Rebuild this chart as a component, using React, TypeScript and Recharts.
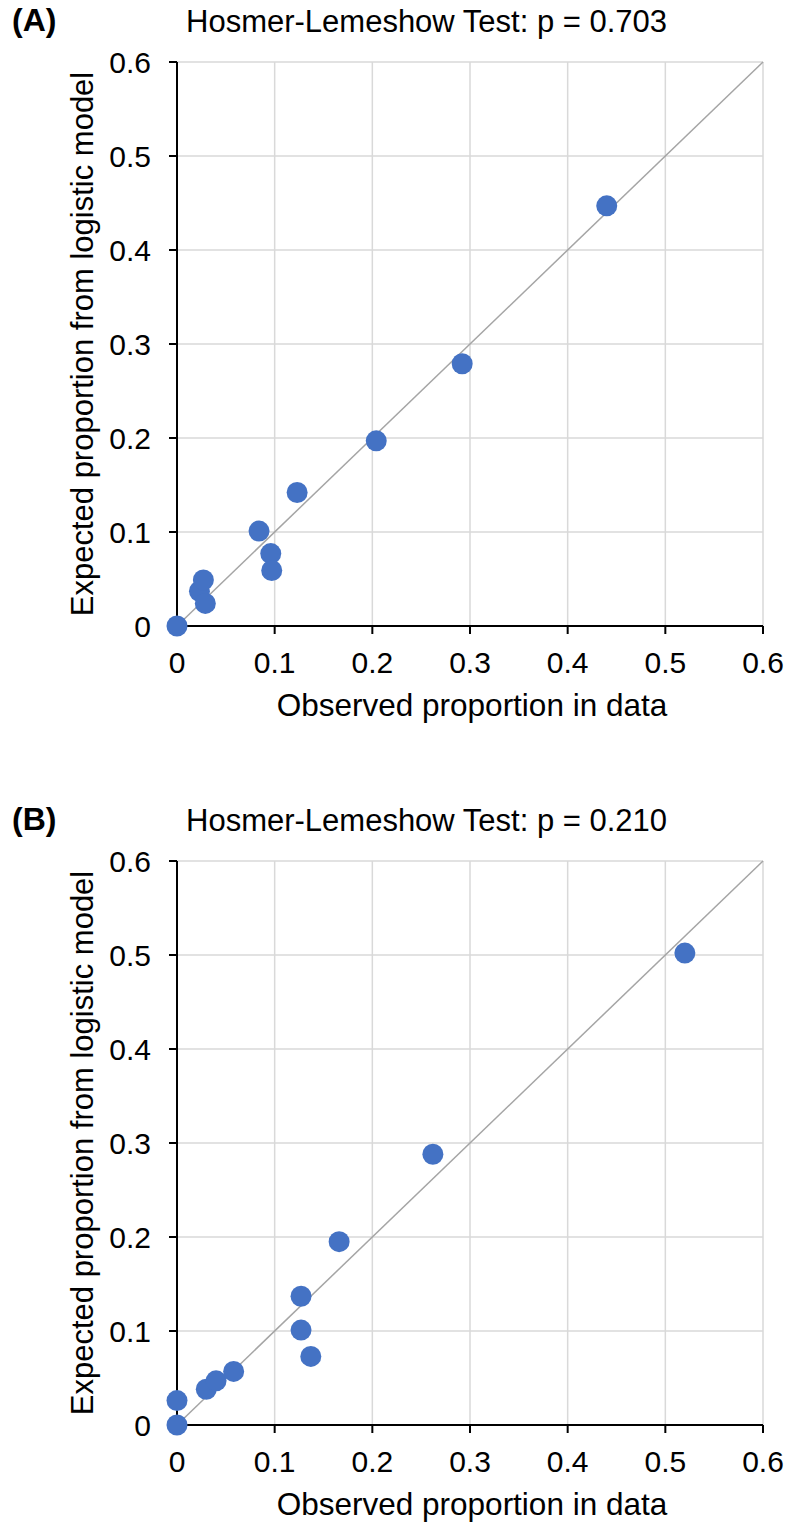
import React from 'react';
import { CartesianGrid, Label, ReferenceLine, Scatter, ScatterChart, XAxis, YAxis } from 'recharts';

// proportions
const axisTicks = [0, 0.1, 0.2, 0.3, 0.4, 0.5, 0.6];

const observedA = [0, 0.023, 0.027, 0.029, 0.084, 0.096, 0.097, 0.123, 0.204, 0.292, 0.44];
const expectedA = [0, 0.037, 0.049, 0.024, 0.101, 0.077, 0.059, 0.142, 0.197, 0.279, 0.447];

const observedB = [0, 0, 0.03, 0.04, 0.058, 0.127, 0.127, 0.137, 0.166, 0.262, 0.52];
const expectedB = [0, 0.026, 0.038, 0.047, 0.057, 0.137, 0.101, 0.073, 0.195, 0.288, 0.502];

const panelTags = ['(A)', '(B)'];
const pValues = ['0.703', '0.210'];

const FONT = '"Liberation Sans", Arial, sans-serif';
const BLUE = '#4472C4';
const tickStyle = { fill: '#000', fontSize: 30, fontFamily: FONT };

const toPoints = (xs: number[], ys: number[]) => xs.map((x, i) => ({ x, y: ys[i] }));

interface PanelProps {
  tag: string;
  pValue: string;
  observed: number[];
  expected: number[];
  top: number;
}

const Panel = ({ tag, pValue, observed, expected, top }: PanelProps) => {
  const data = toPoints(observed, expected);
  return (
    <div style={{ position: 'absolute', left: 0, top, width: 788, height: 725 }}>
      <svg width={788} height={60} style={{ position: 'absolute', left: 0, top: 0 }}>
        <text x={12} y={31} fontFamily={FONT} fontSize={32} fontWeight="bold" fill="#000">
          {tag}
        </text>
        <text x={186} y={32} fontFamily={FONT} fontSize={31} fill="#000">
          {`Hosmer-Lemeshow Test: p = ${pValue}`}
        </text>
      </svg>
      <ScatterChart width={788} height={725} margin={{ top: 62, right: 25, bottom: 0, left: 0 }}>
        <CartesianGrid stroke="#D9D9D9" strokeWidth={1.5} />
        <XAxis
          type="number"
          dataKey="x"
          domain={[0, 0.6]}
          ticks={axisTicks}
          height={99}
          tick={tickStyle}
          tickSize={8}
          tickMargin={18}
          axisLine={{ stroke: '#000', strokeWidth: 2 }}
          tickLine={{ stroke: '#000', strokeWidth: 2 }}
        >
          <Label
            content={({ viewBox }: any) => (
              <text
                x={viewBox.x + viewBox.width / 2 + 2}
                y={viewBox.y + 90}
                textAnchor="middle"
                fontFamily={FONT}
                fontSize={31.5}
                fill="#000"
              >
                Observed proportion in data
              </text>
            )}
          />
        </XAxis>
        <YAxis
          type="number"
          dataKey="y"
          domain={[0, 0.6]}
          ticks={axisTicks}
          width={177}
          tick={tickStyle}
          tickSize={8}
          tickMargin={18}
          axisLine={{ stroke: '#000', strokeWidth: 2 }}
          tickLine={{ stroke: '#000', strokeWidth: 2 }}
        >
          <Label
            content={({ viewBox }: any) => {
              const cx = 93;
              const cy = viewBox.y + viewBox.height / 2;
              return (
                <text
                  x={cx}
                  y={cy}
                  transform={`rotate(-90, ${cx}, ${cy})`}
                  textAnchor="middle"
                  fontFamily={FONT}
                  fontSize={31}
                  fill="#000"
                >
                  Expected proportion from logistic model
                </text>
              );
            }}
          />
        </YAxis>
        <ReferenceLine
          segment={[{ x: 0, y: 0 }, { x: 0.6, y: 0.6 }]}
          stroke="#A5A5A5"
          strokeWidth={1.5}
        />
        <Scatter
          data={data}
          isAnimationActive={false}
          shape={(p: any) => <circle cx={p.cx} cy={p.cy} r={10.5} fill={BLUE} />}
        />
      </ScatterChart>
    </div>
  );
};

export default function App() {
  return (
    <div style={{ position: 'absolute', left: 0, top: 0, width: 788, height: 1523, background: '#fff' }}>
      <Panel tag={panelTags[0]} pValue={pValues[0]} observed={observedA} expected={expectedA} top={0} />
      <Panel tag={panelTags[1]} pValue={pValues[1]} observed={observedB} expected={expectedB} top={799} />
    </div>
  );
}
